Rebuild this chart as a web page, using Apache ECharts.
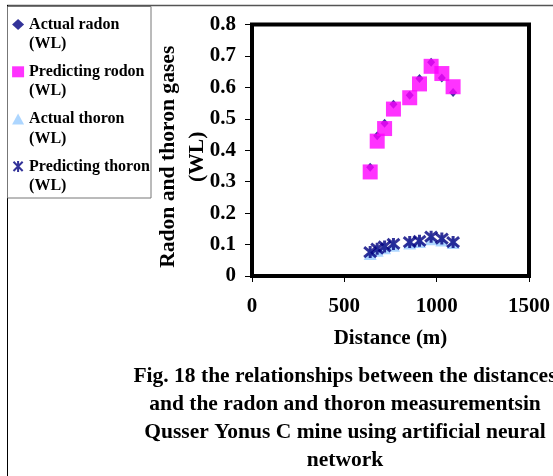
<!DOCTYPE html>
<html><head><meta charset="utf-8">
<script src="https://cdn.jsdelivr.net/npm/echarts@6/dist/echarts.min.js"></script>
<style>html,body{margin:0;padding:0;background:#fff}#c{width:553px;height:476px}</style>
</head><body><div id="c"></div>
<script>
const distance = [640, 678, 718, 766, 854, 907, 970, 1028, 1089];
const actualRadon = [0.346, 0.446, 0.486, 0.546, 0.575, 0.628, 0.680, 0.630, 0.584];
const predictedRadon = [0.331, 0.429, 0.469, 0.531, 0.567, 0.611, 0.667, 0.644, 0.602];
const actualThoron = [0.070, 0.080, 0.088, 0.096, 0.103, 0.108, 0.117, 0.113, 0.105];
const predictedThoron = [0.076, 0.087, 0.094, 0.102, 0.108, 0.112, 0.125, 0.119, 0.108];
const seriesNames = ['Actual radon', 'Predicting rodon', 'Actual thoron', 'Predicting thoron'];
const xTicks = [0, 500, 1000, 1500];
const captionLines = ['Fig. 18 the relationships between the distances', 'and the radon and thoron measurementsin', 'Qusser Yonus C mine using artificial neural', 'network'];

const FONT = 'Liberation Serif';
const pairs = arr => distance.map((d, i) => [d, arr[i]]);
const STAR = 'path://M0,0L10,10M10,0L0,10M5,-1L5,11';

const chart = echarts.init(document.getElementById('c'), null, {renderer: 'canvas'});
chart.setOption({
  animation: false,
  backgroundColor: '#fff',
  grid: {left: 252, right: 20.5, top: 24.5, bottom: 200, show: true, borderColor: '#000', borderWidth: 4, backgroundColor: 'transparent'},
  xAxis: {
    type: 'value', min: xTicks[0], max: xTicks[xTicks.length - 1], interval: 500,
    name: 'Distance (m)', nameLocation: 'middle', nameGap: 52, nameMoveOverlap: false,
    nameTextStyle: {fontFamily: FONT, fontWeight: 'bold', fontSize: 21, color: '#000'},
    axisLine: {show: true, onZero: false, lineStyle: {color: '#000', width: 1}},
    axisTick: {show: true, inside: false, length: 6, lineStyle: {color: '#000', width: 1}},
    axisLabel: {margin: 20, fontFamily: FONT, fontWeight: 'bold', fontSize: 21, color: '#000',
      formatter: v => String(v)},
    splitLine: {show: false}
  },
  yAxis: {
    type: 'value', min: 0, max: 0.8, interval: 0.1,
    name: 'Radon and thoron gases\n(WL)', nameLocation: 'middle', nameGap: 40.5, nameRotate: 90, nameMoveOverlap: false,
    nameTextStyle: {fontFamily: FONT, fontWeight: 'bold', fontSize: 21.6, color: '#000', lineHeight: 29, padding: [0, 13, 0, 0]},
    axisLine: {show: true, lineStyle: {color: '#000', width: 1}},
    axisTick: {show: true, inside: false, length: 7, lineStyle: {color: '#000', width: 1}},
    axisLabel: {margin: 16, fontFamily: FONT, fontWeight: 'bold', fontSize: 21, color: '#000',
      formatter: v => v === 0 ? '0' : v.toFixed(1)},
    splitLine: {show: false}
  },
  legend: {
    orient: 'vertical', left: 11, top: -4.75, padding: 0, itemGap: -11.2,
    itemWidth: 12, itemHeight: 11,
    data: seriesNames,
    formatter: n => '\n' + n + '\n(WL)',
    textStyle: {fontFamily: FONT, fontWeight: 'bold', fontSize: 16, color: '#000', lineHeight: 19.5}
  },
  graphic: [
    {type: 'line', shape: {x1: 7, y1: 5.5, x2: 553, y2: 5.5}, style: {stroke: '#555', lineWidth: 1.5}, silent: true},
    {type: 'line', shape: {x1: 7.5, y1: 5, x2: 7.5, y2: 476}, style: {stroke: '#000', lineWidth: 1}, silent: true},
    {type: 'rect', shape: {x: 7.5, y: 6.5, width: 143.5, height: 191.5}, style: {fill: 'none', stroke: '#777', lineWidth: 1}, silent: true},
    {type: 'group', children: captionLines.map((t, i) => ({
      type: 'text', x: 345, y: 376 + i * 28,
      style: {text: t, fontFamily: FONT, fontWeight: 'bold', fontSize: 21.5, fill: '#000', textAlign: 'center', textVerticalAlign: 'middle'}
    }))}
  ],
  series: [
    {name: seriesNames[0], type: 'scatter', data: pairs(actualRadon), symbol: 'diamond', symbolSize: [8, 9],
     itemStyle: {color: '#000080'}},
    {name: seriesNames[1], type: 'scatter', data: pairs(predictedRadon), symbol: 'rect', symbolSize: 15,
     itemStyle: {color: '#FF00FF'}},
    {name: seriesNames[2], type: 'scatter', data: pairs(actualThoron), symbol: 'triangle', symbolSize: [13, 12],
     itemStyle: {color: '#99CCFF'}},
    {name: seriesNames[3], type: 'scatter', data: pairs(predictedThoron), symbol: STAR, symbolSize: 12,
     itemStyle: {color: 'none', borderColor: '#000080', borderWidth: 3}}
  ]
});
</script></body></html>
